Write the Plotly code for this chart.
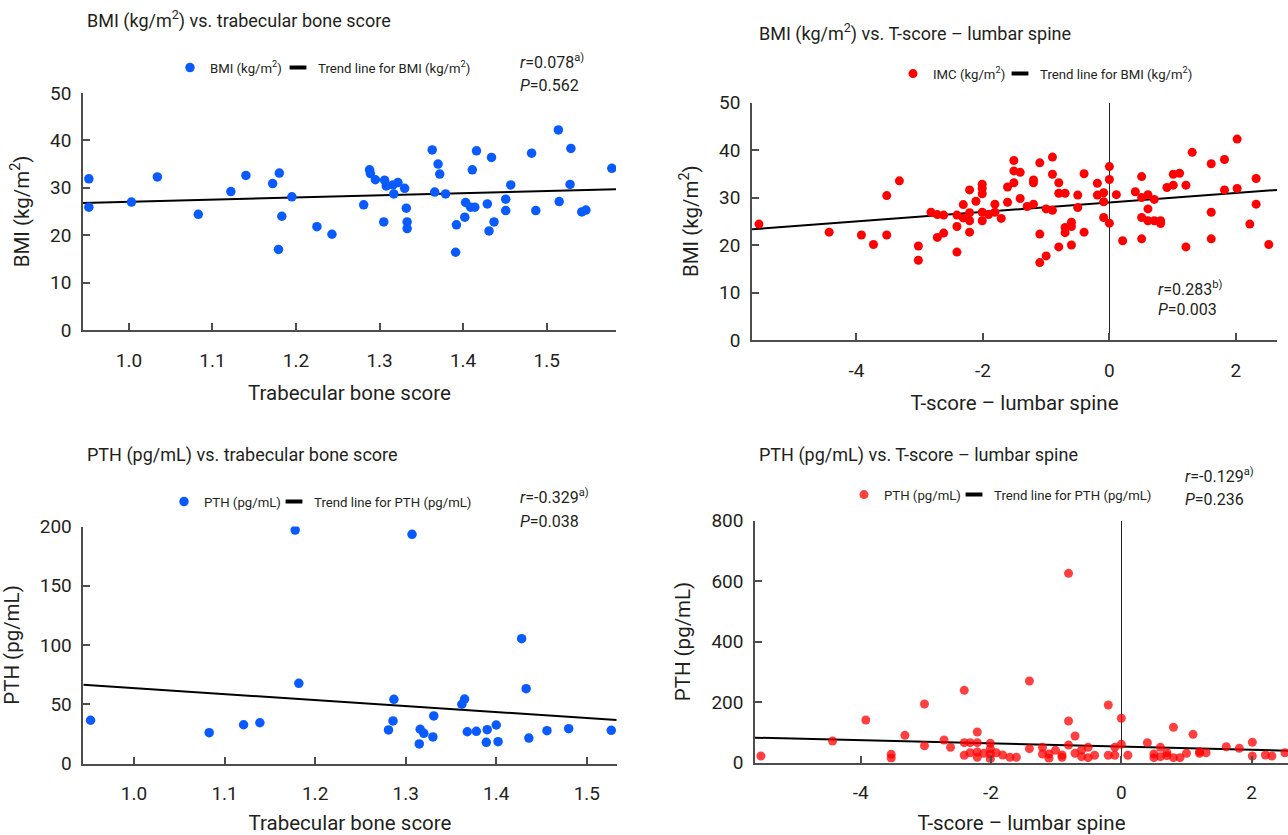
import plotly.graph_objects as go

W, H = 1288, 835
FONT = "Roboto, Liberation Sans Narrow, sans-serif"
TXT = "#231f20"
AX = "#4d4d4d"
BLUE = "#0a5bff"
RED = "#ff0000"

# ---------------- Panel A: BMI vs trabecular bone score ----------------
tbs_a = [0.952, 0.952, 1.003, 1.034, 1.083, 1.122, 1.140, 1.172, 1.180, 1.195, 1.183, 1.179, 1.225, 1.243,
         1.281, 1.288, 1.289, 1.295, 1.305, 1.306, 1.308, 1.317, 1.316, 1.322, 1.330, 1.332, 1.333, 1.333,
         1.363, 1.370, 1.372, 1.366, 1.379, 1.391, 1.392, 1.402, 1.403, 1.409, 1.414, 1.411, 1.416, 1.429,
         1.431, 1.437, 1.434, 1.451, 1.451, 1.457, 1.482, 1.487, 1.515, 1.514, 1.529, 1.528, 1.542, 1.547, 1.578]
bmi_a = [31.9, 25.9, 27.0, 32.3, 24.4, 29.2, 32.6, 30.9, 33.1, 28.1, 24.0, 17.0, 21.8, 20.2,
         26.4, 33.8, 33.0, 31.7, 22.8, 31.6, 30.4, 28.7, 30.6, 31.1, 29.9, 25.7, 22.8, 21.4,
         38.0, 35.0, 32.9, 29.1, 28.7, 16.4, 22.2, 23.8, 26.9, 25.9, 25.9, 33.8, 37.8, 26.6,
         20.9, 22.8, 36.4, 27.6, 25.2, 30.6, 37.3, 25.2, 27.1, 42.2, 38.3, 30.7, 24.9, 25.3, 34.1]
trend_a_x = [0.945, 1.583]
trend_a_y = [26.8, 29.7]

# ---------------- Panel B: BMI vs T-score lumbar spine ----------------
tsc_b = [-5.54, -4.43, -3.92, -3.73, -3.52, -3.52, -3.32, -3.02, -3.02, -2.82, -2.72, -2.62, -2.72, -2.62,
         -2.41, -2.41, -2.41, -2.31, -2.31, -2.21, -2.21, -2.21, -2.21, -2.11, -2.01, -2.01, -2.01, -2.01,
         -2.01, -1.91, -1.81, -1.81, -1.71, -1.61, -1.61, -1.51, -1.51, -1.51, -1.41, -1.41,
         -1.30, -1.20, -1.20, -1.20, -1.10, -1.10, -1.10, -1.00, -1.00, -0.90, -0.90, -0.90, -0.80, -0.80,
         -0.80, -0.70, -0.70, -0.70, -0.60, -0.60, -0.60, -0.50, -0.50, -0.40, -0.40, -0.19, -0.19, -0.09,
         -0.09, -0.09, 0.00, 0.00, 0.00, 0.11, 0.21, 0.41, 0.51, 0.51, 0.51, 0.51, 0.61, 0.61, 0.61, 0.71,
         0.71, 0.81, 0.81, 0.91, 1.01, 1.01, 1.11, 1.21, 1.21, 1.31, 1.61, 1.61, 1.61, 1.82, 1.82, 2.02,
         2.02, 2.22, 2.32, 2.32, 2.52]
bmi_b = [24.4, 22.7, 22.1, 20.1, 30.4, 22.1, 33.5, 19.8, 16.8, 26.9, 26.4, 26.3, 21.6, 22.5,
         18.5, 23.9, 26.3, 28.5, 25.7, 31.6, 26.8, 25.1, 22.7, 29.2, 32.8, 31.9, 30.8, 26.9,
         25.1, 26.4, 28.6, 26.9, 25.6, 32.2, 29.0, 37.8, 35.6, 33.1, 35.3, 29.8,
         28.1, 28.6, 33.7, 33.1, 37.3, 22.3, 16.3, 27.6, 17.7, 38.5, 34.9, 27.3, 33.1, 30.9,
         19.6, 30.9, 23.7, 22.6, 24.8, 23.9, 20.0, 30.5, 27.9, 35.0, 22.7, 33.0, 30.5, 31.0,
         29.1, 25.8, 36.5, 33.8, 24.6, 30.6, 20.9, 31.2, 34.4, 30.0, 25.8, 21.3, 30.6, 27.6, 25.1, 29.6,
         25.1, 25.1, 24.5, 32.1, 34.9, 32.6, 35.1, 32.6, 19.6, 39.5, 37.1, 26.9, 21.3, 38.0, 31.6, 42.3,
         31.9, 24.4, 34.0, 28.6, 20.1]
trend_b_x = [-5.65, 2.65]
trend_b_y = [23.3, 31.6]

# ---------------- Panel C: PTH vs trabecular bone score ----------------
tbs_c = [0.952, 1.083, 1.121, 1.139, 1.178, 1.182, 1.307, 1.287, 1.286, 1.281, 1.315, 1.316, 1.320, 1.330,
         1.331, 1.362, 1.365, 1.368, 1.378, 1.390, 1.389, 1.400, 1.402, 1.428, 1.433, 1.436, 1.456, 1.480, 1.527]
pth_c = [36.5, 26.0, 32.7, 34.4, 197.0, 67.7, 193.4, 54.2, 35.9, 28.3, 16.5, 28.9, 25.5, 22.4,
         40.1, 50.0, 54.4, 26.8, 27.2, 28.5, 17.9, 32.5, 18.4, 105.3, 63.1, 21.5, 27.7, 29.4, 28.0]
trend_c_x = [0.944, 1.533]
trend_c_y = [66.5, 36.7]

# ---------------- Panel D: PTH vs T-score lumbar spine ----------------
tsc_d = [-5.53, -4.43, -3.92, -3.53, -3.53, -3.32, -3.02, -3.02, -2.72, -2.62, -2.41, -2.41, -2.41, -2.32,
         -2.32, -2.21, -2.21, -2.21, -2.21, -2.11, -2.01, -2.01, -2.01, -2.01, -1.92, -1.82, -1.71, -1.61,
         -1.41, -1.41, -1.21, -1.21, -1.11, -1.11, -1.01, -0.91, -0.91, -0.81, -0.81, -0.81, -0.71, -0.71,
         -0.61, -0.61, -0.51, -0.51, -0.41, -0.20, -0.20, -0.10, -0.10, 0.00, 0.00, 0.10, 0.40, 0.50, 0.50,
         0.60, 0.60, 0.70, 0.70, 0.80, 0.80, 0.90, 1.00, 1.10, 1.20, 1.20, 1.30, 1.61, 1.81, 2.01, 2.01,
         2.21, 2.31, 2.51]
pth_d = [21.5, 71.1, 140.5, 27.0, 14.9, 89.9, 193.4, 55.5, 74.4, 50.2, 238.6, 65.5, 23.8, 65.5,
         32.4, 100.8, 65.5, 34.7, 17.2, 30.4, 63.5, 45.6, 28.1, 11.6, 32.4, 24.8, 17.2, 17.2,
         269.4, 45.7, 50.2, 28.1, 28.1, 13.8, 40.3, 24.8, 17.2, 625.4, 137.2, 57.9, 87.6, 30.4,
         41.3, 19.2, 50.2, 15.9, 23.8, 190.1, 23.8, 50.2, 23.8, 146.1, 60.2, 23.8, 65.5, 28.1, 15.9,
         50.2, 19.2, 32.4, 22.5, 116.4, 15.9, 15.9, 30.4, 93.2, 35.7, 30.4, 32.4, 52.2, 46.9, 66.8, 21.5,
         24.8, 21.5, 32.4]
trend_d_x = [-5.62, 2.56]
trend_d_y = [82.0, 39.0]

# tick labels
tbs_ticks = [1.0, 1.1, 1.2, 1.3, 1.4, 1.5]
tbs_labels = ["1.0", "1.1", "1.2", "1.3", "1.4", "1.5"]
tsc_ticks = [-4, -2, 0, 2]
tsc_labels = ["-4", "-2", "0", "2"]
bmi_ticks = [0, 10, 20, 30, 40, 50]
pthc_ticks = [0, 50, 100, 150, 200]
pthd_ticks = [0, 200, 400, 600, 800]


def fx(px):
    return px / W


def fy(py):
    return 1 - py / H


fig = go.Figure()


def add_panel(xs, ys, tx, ty, ax, color, name, trend_name, leg, size, lw, opacity=1.0):
    xa, ya = "x" + ax, "y" + ax
    fig.add_trace(go.Scatter(x=tx, y=ty, mode="lines", line=dict(color="black", width=2),
                             showlegend=False, xaxis=xa, yaxis=ya, hoverinfo="skip"))
    fig.add_trace(go.Scatter(x=xs, y=ys, mode="markers", name=name, legendwidth=lw,
                             marker=dict(color=color, size=size, opacity=opacity, line=dict(width=0)),
                             xaxis=xa, yaxis=ya, legend=leg))
    fig.add_trace(go.Scatter(x=[None], y=[None], mode="markers", name=trend_name,
                             marker=dict(symbol="line-ew", size=12, line=dict(width=4, color="black")),
                             xaxis=xa, yaxis=ya, legend=leg))


add_panel(tbs_a, bmi_a, trend_a_x, trend_a_y, "", BLUE, "BMI (kg/m<sup>2</sup>)",
          "Trend line for BMI (kg/m<sup>2</sup>)", "legend", 9.5, 63)
add_panel(tsc_b, bmi_b, trend_b_x, trend_b_y, "2", RED, "IMC (kg/m<sup>2</sup>)",
          "Trend line for BMI (kg/m<sup>2</sup>)", "legend2", 9, 62)
add_panel(tbs_c, pth_c, trend_c_x, trend_c_y, "3", BLUE, "PTH (pg/mL)",
          "Trend line for PTH (pg/mL)", "legend3", 9.5, 65)
add_panel(tsc_d, pth_d, trend_d_x, trend_d_y, "4", RED, "PTH (pg/mL)",
          "Trend line for PTH (pg/mL)", "legend4", 9, 65, opacity=0.75)


def xaxis(domain, rng, anchor, tv, tt, title, zeroline=False):
    return dict(domain=domain, range=rng, anchor=anchor, showline=True, linecolor=AX, linewidth=1.5,
                ticks="inside", ticklen=7, tickcolor=AX, tickwidth=1.5, tickvals=tv, ticktext=tt,
                showgrid=False, zeroline=zeroline, zerolinecolor="#222", zerolinewidth=1.3,
                ticklabelstandoff=12,
                tickfont=dict(family=FONT, size=19, color=TXT),
                title=dict(text=title, font=dict(family=FONT, size=20.5, color=TXT), standoff=15),
                fixedrange=True)


def yaxis(domain, rng, anchor, tv, title):
    return dict(domain=domain, range=rng, anchor=anchor, showline=True, linecolor=AX, linewidth=1.5,
                ticks="inside", ticklen=7, tickcolor=AX, tickwidth=1.5, tickvals=tv,
                showgrid=False, zeroline=False, ticklabelstandoff=6,
                tickfont=dict(family=FONT, size=19, color=TXT),
                title=dict(text=title, font=dict(family=FONT, size=20.5, color=TXT), standoff=15),
                fixedrange=True)


layout = dict(
    width=W, height=H, margin=dict(l=0, r=0, t=0, b=0, autoexpand=False),
    paper_bgcolor="white", plot_bgcolor="white", showlegend=True,
    xaxis=xaxis([fx(83), fx(616)], [0.945, 1.583], "y", tbs_ticks, tbs_labels, "Trabecular bone score"),
    yaxis=yaxis([fy(330), fy(93)], [0, 50], "x", bmi_ticks, "BMI (kg/m<sup>2</sup>)"),
    xaxis2=xaxis([fx(752), fx(1277)], [-5.65, 2.65], "y2", tsc_ticks, tsc_labels, "T-score \u2013 lumbar spine", True),
    yaxis2=yaxis([fy(340), fy(102.5)], [0, 50], "x2", bmi_ticks, "BMI (kg/m<sup>2</sup>)"),
    xaxis3=xaxis([fx(83.3), fx(616.7)], [0.944, 1.533], "y3", tbs_ticks, tbs_labels, "Trabecular bone score"),
    yaxis3=yaxis([fy(763.5), fy(526.5)], [0, 200], "x3", pthc_ticks, "PTH (pg/mL)"),
    xaxis4=xaxis([fx(755), 1.0], [-5.62, 2.557], "y4", tsc_ticks, tsc_labels, "T-score \u2013 lumbar spine", True),
    yaxis4=yaxis([fy(762.5), fy(520.5)], [0, 800], "x4", pthd_ticks, "PTH (pg/mL)"),
)


def legend(px, py):
    return dict(orientation="h", x=fx(px), y=fy(py), xanchor="left", yanchor="middle",
                font=dict(family=FONT, size=13.2, color=TXT), bgcolor="rgba(0,0,0,0)",
                itemwidth=30, itemclick=False, itemdoubleclick=False, traceorder="normal")


layout["legend"] = legend(170, 68)
layout["legend2"] = legend(893, 74)
layout["legend3"] = legend(164, 502)
layout["legend4"] = legend(844, 495)

ann = []


def text(px, py, s, size, anchor="left"):
    ann.append(dict(x=fx(px), y=fy(py), xref="paper", yref="paper", text=s, showarrow=False,
                    xanchor=anchor, yanchor="middle", font=dict(family=FONT, size=size, color=TXT)))


text(85, 20, "BMI (kg/m<sup>2</sup>) vs. trabecular bone score", 18)
text(757, 32, "BMI (kg/m<sup>2</sup>) vs. T-score \u2013 lumbar spine", 18)
text(85, 455, "PTH (pg/mL) vs. trabecular bone score", 18)
text(757, 455, "PTH (pg/mL) vs. T-score \u2013 lumbar spine", 18)

text(518, 62, "<i>r</i>=0.078<sup>a)</sup>", 16)
text(518, 85, "<i>P</i>=0.562", 16)
text(1156, 288, "<i>r</i>=0.283<sup>b)</sup>", 16)
text(1156, 309, "<i>P</i>=0.003", 16)
text(518, 497, "<i>r</i>=-0.329<sup>a)</sup>", 16)
text(518, 521, "<i>P</i>=0.038", 16)
text(1183, 476, "<i>r</i>=-0.129<sup>a)</sup>", 16)
text(1183, 499, "<i>P</i>=0.236", 16)

layout["annotations"] = ann
fig.update_layout(**layout)

fig.write_html("out.html", config={"displayModeBar": False},
               post_script="document.body.style.margin='0';document.body.style.overflow='hidden';")
